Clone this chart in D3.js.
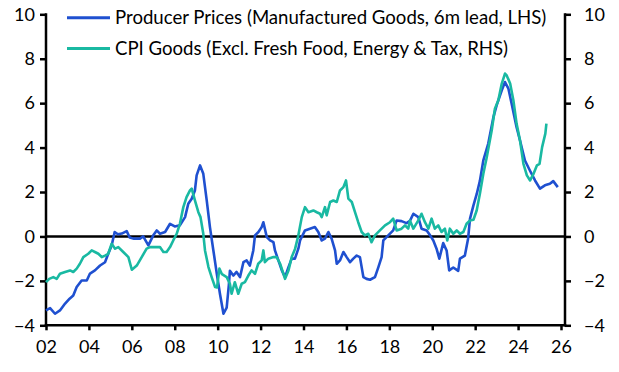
<!DOCTYPE html>
<html>
<head>
<meta charset="utf-8">
<script src="https://cdn.jsdelivr.net/npm/d3@7"></script>
<style>
html,body{margin:0;padding:0;background:#fff;}
svg{display:block;font-family:Lato,"Open Sans",sans-serif;}
</style>
</head>
<body>
<svg id="chart" width="619" height="372"></svg>
<script>
// ---- data (decimal years) ----
const seriesNames = [
  "Producer Prices (Manufactured Goods, 6m lead, LHS)",
  "CPI Goods (Excl. Fresh Food, Energy & Tax, RHS)"
];
const xTickYears = [2002,2004,2006,2008,2010,2012,2014,2016,2018,2020,2022,2024,2026];
const yTicks = [-4,-2,0,2,4,6,8,10];

const ppiDates = [2002.0,2002.19,2002.42,2002.65,2002.89,2003.1,2003.27,2003.43,2003.66,2003.9,2004.05,2004.28,2004.52,2004.75,2004.9,2005.06,2005.2,2005.35,2005.53,2005.76,2005.9,2006.1,2006.38,2006.53,2006.77,2007.0,2007.16,2007.31,2007.55,2007.78,2008.0,2008.24,2008.48,2008.63,2008.79,2008.94,2009.02,2009.18,2009.33,2009.49,2009.64,2009.8,2009.96,2010.11,2010.27,2010.42,2010.52,2010.57,2010.73,2010.88,2011.04,2011.2,2011.35,2011.5,2011.66,2011.74,2011.9,2012.05,2012.13,2012.29,2012.44,2012.6,2012.67,2012.83,2012.99,2013.14,2013.3,2013.45,2013.6,2013.76,2013.84,2014.07,2014.3,2014.53,2014.69,2014.85,2015.0,2015.16,2015.31,2015.47,2015.55,2015.7,2015.86,2016.01,2016.17,2016.32,2016.48,2016.63,2016.79,2016.94,2017.1,2017.33,2017.49,2017.64,2017.72,2017.95,2018.18,2018.34,2018.57,2018.8,2018.96,2019.12,2019.35,2019.5,2019.74,2019.9,2020.05,2020.2,2020.33,2020.51,2020.67,2020.79,2020.98,2021.21,2021.29,2021.52,2021.67,2021.76,2021.92,2022.07,2022.22,2022.38,2022.61,2022.85,2023.0,2023.24,2023.39,2023.55,2023.7,2023.93,2024.09,2024.32,2024.55,2024.79,2025.02,2025.25,2025.48,2025.64,2025.85];
const ppiValues = [-3.33,-3.23,-3.48,-3.33,-3.02,-2.8,-2.66,-2.28,-1.98,-1.98,-1.67,-1.53,-1.31,-1.16,-0.78,-0.41,0.2,0.1,0.13,0.24,-0.05,-0.1,-0.1,0.0,-0.4,0.05,0.27,0.12,0.2,0.57,0.45,0.5,0.87,1.47,1.7,2.07,2.75,3.2,2.82,1.62,0.42,-0.63,-1.68,-2.6,-3.48,-3.2,-2.2,-1.55,-1.76,-1.6,-1.83,-1.16,-1.08,-1.31,-0.63,0.05,0.2,0.42,0.64,-0.03,-0.18,-0.26,-0.63,-1.08,-1.53,-1.83,-1.38,-1.0,-1.0,-0.55,-0.18,0.27,0.35,0.42,0.2,-0.18,-0.1,0.2,-0.1,-0.63,-1.23,-1.08,-0.7,-0.93,-1.16,-1.0,-0.86,-0.93,-1.83,-1.91,-1.95,-1.83,-1.38,-0.93,-0.18,0.05,0.27,0.72,0.69,0.6,0.7,1.02,0.87,0.35,0.27,0.05,-0.18,-0.55,-1.0,-0.3,-0.63,-1.53,-1.4,-1.55,-1.0,-0.86,-0.1,0.8,1.4,1.9,2.5,3.42,4.18,5.37,5.9,6.58,6.95,6.65,5.98,4.92,4.32,3.42,2.97,2.52,2.15,2.3,2.37,2.49,2.22];

const cpiDates = [2002.0,2002.15,2002.34,2002.5,2002.65,2002.89,2003.12,2003.27,2003.43,2003.58,2003.74,2003.97,2004.13,2004.28,2004.44,2004.6,2004.75,2004.9,2005.06,2005.22,2005.37,2005.6,2005.84,2006.0,2006.23,2006.46,2006.69,2006.85,2007.08,2007.31,2007.47,2007.62,2007.78,2007.93,2008.09,2008.24,2008.4,2008.55,2008.71,2008.79,2008.94,2009.1,2009.2,2009.33,2009.41,2009.57,2009.72,2009.88,2009.97,2010.08,2010.2,2010.42,2010.57,2010.65,2010.8,2010.96,2011.12,2011.27,2011.43,2011.58,2011.74,2011.89,2012.05,2012.13,2012.2,2012.36,2012.6,2012.75,2012.91,2013.14,2013.3,2013.45,2013.61,2013.76,2013.92,2014.07,2014.23,2014.46,2014.62,2014.77,2014.85,2015.0,2015.08,2015.24,2015.39,2015.55,2015.7,2015.86,2015.98,2016.09,2016.25,2016.4,2016.55,2016.71,2016.86,2017.02,2017.17,2017.33,2017.56,2017.8,2018.03,2018.18,2018.34,2018.57,2018.73,2018.88,2018.96,2019.12,2019.35,2019.5,2019.66,2019.82,2019.97,2020.12,2020.28,2020.43,2020.59,2020.7,2020.82,2020.98,2021.14,2021.29,2021.45,2021.6,2021.76,2021.92,2022.07,2022.22,2022.38,2022.54,2022.77,2022.92,2023.08,2023.24,2023.39,2023.47,2023.63,2023.78,2023.93,2024.09,2024.25,2024.41,2024.56,2024.72,2024.88,2025.0,2025.12,2025.27,2025.32];
const cpiValues = [-2.06,-1.91,-1.83,-1.91,-1.68,-1.6,-1.53,-1.6,-1.45,-1.23,-0.93,-0.78,-0.63,-0.7,-0.78,-0.93,-0.86,-0.78,-0.33,-0.55,-0.48,-0.7,-0.93,-1.5,-1.31,-0.93,-0.55,-0.48,-0.48,-0.48,-0.7,-0.7,-0.48,-0.18,0.12,0.57,1.32,1.77,2.07,2.15,1.62,1.09,0.87,0.12,-0.63,-1.38,-1.83,-2.28,-2.3,-1.45,-1.7,-1.83,-2.13,-2.58,-2.06,-2.58,-2.13,-2.06,-1.76,-1.53,-1.68,-1.23,-1.08,-0.63,-1.16,-1.0,-0.93,-0.93,-1.23,-1.91,-1.53,-0.93,-0.55,0.05,0.87,1.32,1.09,1.17,1.09,1.02,0.87,1.32,0.95,1.55,1.62,1.55,2.07,2.22,2.52,1.7,1.55,1.09,0.64,0.2,0.05,0.12,-0.26,0.05,0.27,0.5,0.64,0.8,0.27,0.35,0.5,0.35,0.72,0.35,0.72,1.02,0.64,0.35,0.8,0.35,0.5,0.2,0.35,-0.18,0.35,0.12,0.27,0.12,0.2,0.57,0.72,0.75,1.17,1.92,2.82,3.57,4.77,5.75,6.13,6.88,7.33,7.25,6.88,6.13,5.08,4.32,3.27,2.75,2.52,2.82,3.2,3.27,4.02,4.63,5.08];

// ---- layout ----
const svg = d3.select("#chart");
const plotLeft = 46, plotRight = 565, plotTop = 14.3, plotBottom = 325.3;
const colors = ["#1f50d0", "#19b9a2"];

const x = d3.scaleLinear().domain([2002, 2026]).range([plotLeft, 561]);
const y = d3.scaleLinear().domain([-4, 10]).range([plotBottom, plotTop]);

const fmtYear = d => String(d % 100).padStart(2, "0");

// axes
const gL = svg.append("g").attr("transform", `translate(${plotLeft},0)`)
  .call(d3.axisLeft(y).tickValues(yTicks).tickSize(6).tickPadding(5).tickFormat(d3.format("d")));
const gR = svg.append("g").attr("transform", `translate(${plotRight},0)`)
  .call(d3.axisRight(y).tickValues(yTicks).tickSize(6).tickPadding(13).tickFormat(d3.format("d")));
const gB = svg.append("g").attr("transform", `translate(0,${plotBottom})`)
  .call(d3.axisBottom(x).tickValues(xTickYears).tickSize(5).tickPadding(10).tickFormat(fmtYear));

[gL, gR, gB].forEach(g => {
  g.select(".domain").remove();
  g.selectAll(".tick line").attr("stroke", "#000").attr("stroke-width", 2.5);
  g.selectAll(".tick text").attr("fill", "#000").style("font-size", "18px").style("font-family", "Lato, 'Open Sans', sans-serif");
});

// axis lines
svg.append("line").attr("x1", plotLeft).attr("x2", plotLeft).attr("y1", plotTop - 1).attr("y2", plotBottom + 1.25)
  .attr("stroke", "#000").attr("stroke-width", 2.5);
svg.append("line").attr("x1", plotRight).attr("x2", plotRight).attr("y1", plotTop - 1).attr("y2", plotBottom + 1.25)
  .attr("stroke", "#000").attr("stroke-width", 2.5);
svg.append("line").attr("x1", plotLeft - 1.25).attr("x2", plotRight + 1.25).attr("y1", plotBottom).attr("y2", plotBottom)
  .attr("stroke", "#000").attr("stroke-width", 2.5);
// zero line
svg.append("line").attr("x1", plotLeft).attr("x2", plotRight).attr("y1", y(0)).attr("y2", y(0))
  .attr("stroke", "#000").attr("stroke-width", 2.5);

// series
const line = d3.line().x(d => x(d[0])).y(d => y(d[1])).curve(d3.curveLinear);
const ppi = ppiDates.map((d, i) => [d, ppiValues[i]]);
const cpi = cpiDates.map((d, i) => [d, cpiValues[i]]);

svg.append("path").datum(ppi).attr("d", line).attr("fill", "none")
  .attr("stroke", colors[0]).attr("stroke-width", 2.6).attr("stroke-linejoin", "round");
svg.append("path").datum(cpi).attr("d", line).attr("fill", "none")
  .attr("stroke", colors[1]).attr("stroke-width", 2.6).attr("stroke-linejoin", "round");

// legend
const legY = [17.7, 48.5];
seriesNames.forEach((name, i) => {
  svg.append("line").attr("x1", 67).attr("x2", 110).attr("y1", legY[i]).attr("y2", legY[i])
    .attr("stroke", colors[i]).attr("stroke-width", 3);
  svg.append("text").attr("x", 115).attr("y", legY[i]).attr("dy", "0.35em")
    .style("font-size", "18.6px").attr("fill", "#000").text(name);
});
</script>
</body>
</html>
